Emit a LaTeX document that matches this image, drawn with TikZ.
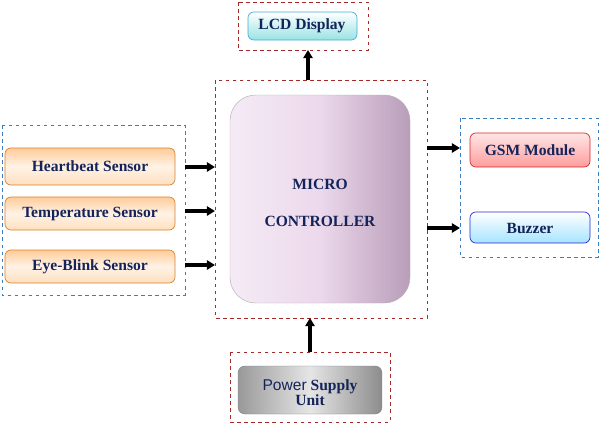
\documentclass[tikz,border=0pt]{standalone}
\usepackage{fontspec}
\newfontfamily\serf{Liberation Serif}
\newfontfamily\sansf{Liberation Sans}
\usetikzlibrary{arrows.meta, positioning}
\definecolor{txtblue}{HTML}{14245A}
\definecolor{redline}{HTML}{A52A2A}
\definecolor{blueline}{HTML}{3A7DC0}
\tikzset{
  frame/.style={draw=#1, dashed, line width=0.6pt},
  blk/.style={rounded corners=5pt, draw=#1!70!gray, line width=0.6pt},
  lbl/.style={font=\serf\bfseries\fontsize{13.3}{15}\selectfont, text=txtblue, align=center},
  link/.style={line width=2.6pt, -{Triangle[length=7pt, width=8pt]}}
}
\begin{document}
\begin{tikzpicture}[x=0.03cm, y=-0.03cm]
\useasboundingbox (0,0) rectangle (605,434);

% frames
\draw[frame=redline] (238,2) rectangle (368,50);
\draw[frame=redline] (215,80) rectangle (427,318);
\draw[frame=blueline] (2,125) rectangle (185,295);
\draw[frame=blueline] (460,118) rectangle (598,257);
\draw[frame=redline] (230,352) rectangle (390,422);

% blocks
\path[blk=cyan, top color=white, bottom color=cyan!45!teal!40] (248,12) rectangle (357,40);
\node[lbl] (lcd) at (302,26) {LCD Display};

\path[rounded corners=22pt, draw=gray!60, left color=violet!8, right color=violet!40!gray!55, middle color=violet!15] (230,95) rectangle (410,303);
\node[lbl] (mcu) at (320,203) {MICRO\\[16pt]CONTROLLER};

\foreach \ya/\yb/\nm/\txt in {148/185/hb/Heartbeat Sensor, 197/230/tmp/Temperature Sensor, 250/283/eye/Eye-Blink Sensor}{
  \path[blk=orange, top color=orange!40, bottom color=orange!25, middle color=orange!10] (5,\ya) rectangle (175,\yb);
  \node[lbl] (\nm) at (90,{(\ya+\yb)/2}) {\txt};
}

\path[blk=red, top color=red!10, bottom color=red!40!pink!70] (470,133) rectangle (590,167);
\node[lbl] (gsm) at (530,150) {GSM Module};
\path[blk=blue, top color=white, bottom color=blue!30!cyan!35] (470,212) rectangle (590,243);
\node[lbl] (buz) at (530,228) {Buzzer};

\path[rounded corners=6pt, draw=gray, left color=gray!80, right color=gray!90, middle color=gray!20] (238,366) rectangle (382,414);
\node[lbl] (psu) at (310,393) {{\sansf\mdseries Power} Supply\\[-2pt]Unit};

% connectors
\coordinate (mcuT) at (308,80);
\coordinate (lcdB) at (308,50);
\coordinate (mcuB) at (310,318);
\coordinate (psuT) at (310,352);
\draw[link] (mcuT) -- (lcdB);
\draw[link] (psuT) -- (mcuB);
\foreach \y in {167,211,265}{
  \coordinate (s\y) at (185,\y); \coordinate (m\y) at (215,\y);
  \draw[link] (s\y) -- (m\y);
}
\foreach \y in {148,228}{
  \coordinate (c\y) at (427,\y); \coordinate (o\y) at (460,\y);
  \draw[link] (c\y) -- (o\y);
}
\end{tikzpicture}
\end{document}
